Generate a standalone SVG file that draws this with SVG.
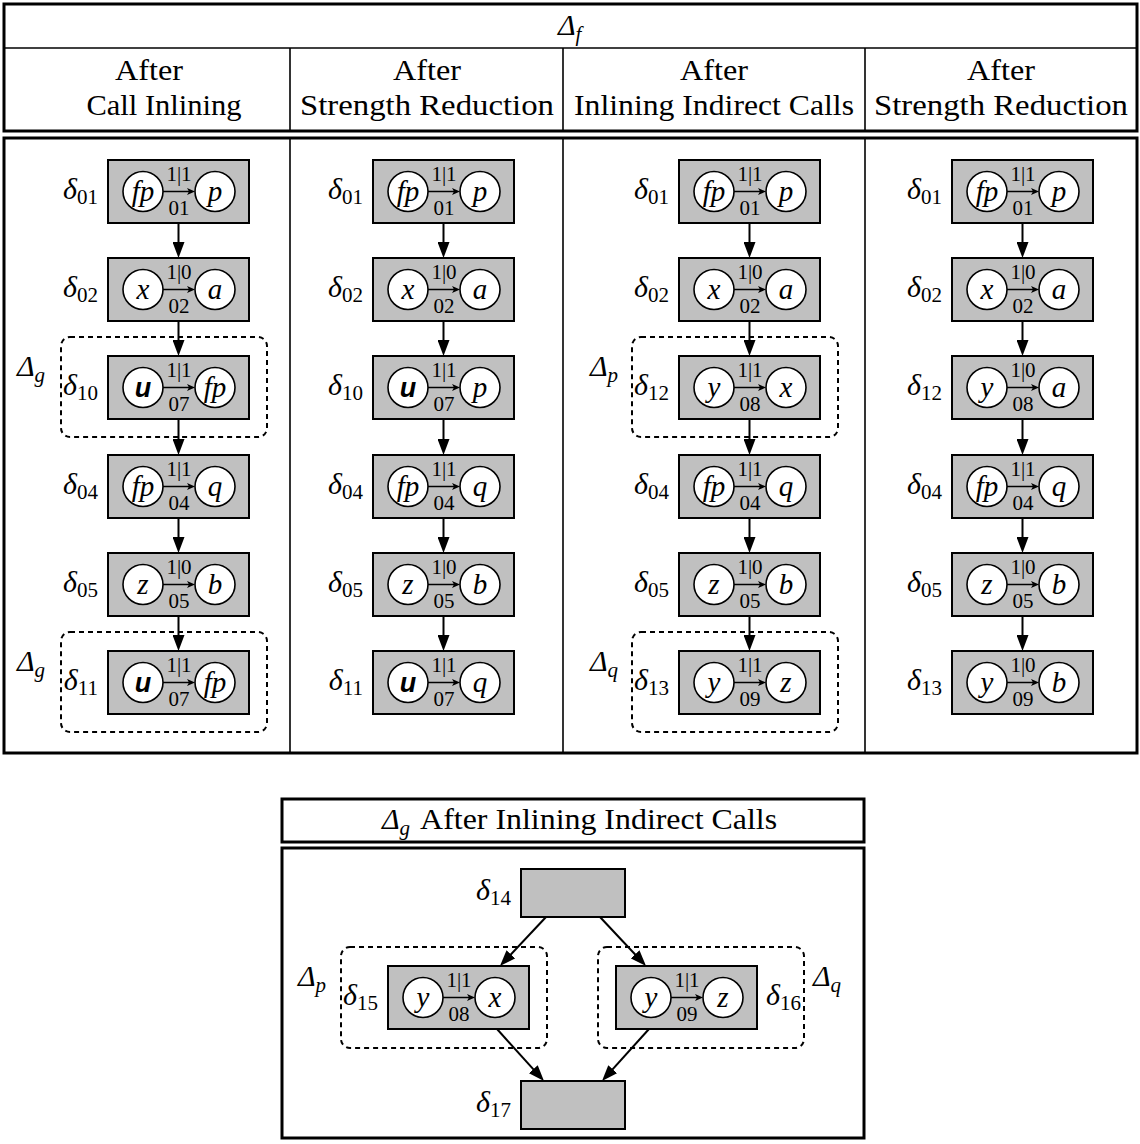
<svg xmlns="http://www.w3.org/2000/svg" width="1140" height="1144" viewBox="0 0 1140 1144">
<style>
text { font-family: "Liberation Serif", "DejaVu Serif", serif; fill: #000; }
.frame { fill: none; stroke: #000; stroke-width: 3; }
.thin { stroke: #000; stroke-width: 1.6; fill: none; }
.h { font-size: 29px; text-anchor: middle; }
.nb { fill: #c0c0c0; stroke: #000; stroke-width: 2; }
.c { fill: #fff; stroke: #000; stroke-width: 1.6; }
.v { font-size: 29px; font-style: italic; text-anchor: middle; }
.vb { font-family: "Liberation Sans", "DejaVu Sans", sans-serif; font-weight: bold; font-style: italic; font-size: 27px; text-anchor: middle; }
.el { font-size: 21px; text-anchor: middle; }
.dl { font-size: 30px; font-style: italic; text-anchor: end; }
.dls { font-size: 30px; font-style: italic; }
.sub { font-size: 21px; font-style: normal; }
.cl { font-size: 30px; font-style: italic; }
.csub { font-size: 21px; font-style: italic; }
.ia { stroke: #000; stroke-width: 1.5; marker-end: url(#sa); }
.va { stroke: #000; stroke-width: 2; fill: none; marker-end: url(#ah); }
.dash { fill: none; stroke: #000; stroke-width: 2; stroke-dasharray: 5 4; }
</style>
<defs>
<marker id="ah" markerUnits="userSpaceOnUse" markerWidth="16" markerHeight="12" refX="6" refY="6" orient="auto"><path d="M0,0 L16,6 L0,12 z" fill="#000"/></marker>
<marker id="sa" markerUnits="userSpaceOnUse" markerWidth="9" markerHeight="7" refX="2" refY="3.5" orient="auto"><path d="M0,0 L8,3.5 L0,7 L2,3.5 z" fill="#000"/></marker>
</defs>
<rect width="1140" height="1144" fill="#fff"/>

<!-- top table frame -->
<g id="table-top">
<rect class="frame" x="4" y="4" width="1133" height="127"/>
<line class="thin" x1="4" y1="48" x2="1137" y2="48"/>
<line class="thin" x1="290" y1="48" x2="290" y2="131"/>
<line class="thin" x1="563" y1="48" x2="563" y2="131"/>
<line class="thin" x1="865" y1="48" x2="865" y2="131"/>
<text x="558" y="35"><tspan class="cl">Δ</tspan><tspan class="csub" dy="6">f</tspan></text>
<text class="h" x="149" y="80" textLength="68" lengthAdjust="spacingAndGlyphs">After</text>
<text class="h" x="164" y="115" textLength="155" lengthAdjust="spacingAndGlyphs">Call Inlining</text>
<text class="h" x="427" y="80" textLength="68" lengthAdjust="spacingAndGlyphs">After</text>
<text class="h" x="427" y="115" textLength="254" lengthAdjust="spacingAndGlyphs">Strength Reduction</text>
<text class="h" x="714" y="80" textLength="68" lengthAdjust="spacingAndGlyphs">After</text>
<text class="h" x="714" y="115" textLength="280" lengthAdjust="spacingAndGlyphs">Inlining Indirect Calls</text>
<text class="h" x="1001" y="80" textLength="68" lengthAdjust="spacingAndGlyphs">After</text>
<text class="h" x="1001" y="115" textLength="254" lengthAdjust="spacingAndGlyphs">Strength Reduction</text>
<rect class="frame" x="4" y="138" width="1133" height="615"/>
<line class="thin" x1="290" y1="138" x2="290" y2="753"/>
<line class="thin" x1="563" y1="138" x2="563" y2="753"/>
<line class="thin" x1="865" y1="138" x2="865" y2="753"/>
</g>

<!-- clusters -->
<g id="cluster-c1-g1"><rect class="dash" x="61" y="337" width="206" height="100" rx="9"/><text x="17" y="376"><tspan class="cl">Δ</tspan><tspan class="csub" dy="6">g</tspan></text></g>
<g id="cluster-c1-g2"><rect class="dash" x="61" y="632" width="206" height="100" rx="9"/><text x="17" y="671"><tspan class="cl">Δ</tspan><tspan class="csub" dy="6">g</tspan></text></g>
<g id="cluster-c3-p"><rect class="dash" x="632" y="337" width="206" height="100" rx="9"/><text x="590" y="376"><tspan class="cl">Δ</tspan><tspan class="csub" dy="6">p</tspan></text></g>
<g id="cluster-c3-q"><rect class="dash" x="632" y="632" width="206" height="100" rx="9"/><text x="590" y="671"><tspan class="cl">Δ</tspan><tspan class="csub" dy="6">q</tspan></text></g>

<!-- connectors -->
<g id="connectors">
<line class="va" x1="178.5" y1="223" x2="178.5" y2="248"/>
<line class="va" x1="178.5" y1="321" x2="178.5" y2="346"/>
<line class="va" x1="178.5" y1="419" x2="178.5" y2="445"/>
<line class="va" x1="178.5" y1="518" x2="178.5" y2="543"/>
<line class="va" x1="178.5" y1="616" x2="178.5" y2="641"/>
<line class="va" x1="443.5" y1="223" x2="443.5" y2="248"/>
<line class="va" x1="443.5" y1="321" x2="443.5" y2="346"/>
<line class="va" x1="443.5" y1="419" x2="443.5" y2="445"/>
<line class="va" x1="443.5" y1="518" x2="443.5" y2="543"/>
<line class="va" x1="443.5" y1="616" x2="443.5" y2="641"/>
<line class="va" x1="749.5" y1="223" x2="749.5" y2="248"/>
<line class="va" x1="749.5" y1="321" x2="749.5" y2="346"/>
<line class="va" x1="749.5" y1="419" x2="749.5" y2="445"/>
<line class="va" x1="749.5" y1="518" x2="749.5" y2="543"/>
<line class="va" x1="749.5" y1="616" x2="749.5" y2="641"/>
<line class="va" x1="1022.5" y1="223" x2="1022.5" y2="248"/>
<line class="va" x1="1022.5" y1="321" x2="1022.5" y2="346"/>
<line class="va" x1="1022.5" y1="419" x2="1022.5" y2="445"/>
<line class="va" x1="1022.5" y1="518" x2="1022.5" y2="543"/>
<line class="va" x1="1022.5" y1="616" x2="1022.5" y2="641"/>
<line class="va" x1="546" y1="917" x2="506.8" y2="958.7"/>
<line class="va" x1="600" y1="917" x2="639.2" y2="958.7"/>
<line class="va" x1="497" y1="1029" x2="537.3" y2="1073.6"/>
<line class="va" x1="649" y1="1029" x2="608.7" y2="1073.6"/>
</g>

<!-- column 1 -->
<g id="c1-d01" transform="translate(108,160)"><rect class="nb" width="141" height="63"/><circle class="c" cx="35" cy="31.5" r="20"/><circle class="c" cx="107" cy="31.5" r="20"/><line class="ia" x1="55" y1="31.5" x2="81" y2="31.5"/><text class="el" x="71" y="21">1|1</text><text class="el" x="71" y="55">01</text><text class="v" x="35" y="41">fp</text><text class="v" x="107" y="41">p</text><text class="dl" x="-10" y="39">δ<tspan class="sub" dy="5">01</tspan></text></g>
<g id="c1-d02" transform="translate(108,258)"><rect class="nb" width="141" height="63"/><circle class="c" cx="35" cy="31.5" r="20"/><circle class="c" cx="107" cy="31.5" r="20"/><line class="ia" x1="55" y1="31.5" x2="81" y2="31.5"/><text class="el" x="71" y="21">1|0</text><text class="el" x="71" y="55">02</text><text class="v" x="35" y="41">x</text><text class="v" x="107" y="41">a</text><text class="dl" x="-10" y="39">δ<tspan class="sub" dy="5">02</tspan></text></g>
<g id="c1-d10" transform="translate(108,356)"><rect class="nb" width="141" height="63"/><circle class="c" cx="35" cy="31.5" r="20"/><circle class="c" cx="107" cy="31.5" r="20"/><line class="ia" x1="55" y1="31.5" x2="81" y2="31.5"/><text class="el" x="71" y="21">1|1</text><text class="el" x="71" y="55">07</text><text class="vb" x="35" y="41">u</text><text class="v" x="107" y="41">fp</text><text class="dl" x="-10" y="39">δ<tspan class="sub" dy="5">10</tspan></text></g>
<g id="c1-d04" transform="translate(108,455)"><rect class="nb" width="141" height="63"/><circle class="c" cx="35" cy="31.5" r="20"/><circle class="c" cx="107" cy="31.5" r="20"/><line class="ia" x1="55" y1="31.5" x2="81" y2="31.5"/><text class="el" x="71" y="21">1|1</text><text class="el" x="71" y="55">04</text><text class="v" x="35" y="41">fp</text><text class="v" x="107" y="41">q</text><text class="dl" x="-10" y="39">δ<tspan class="sub" dy="5">04</tspan></text></g>
<g id="c1-d05" transform="translate(108,553)"><rect class="nb" width="141" height="63"/><circle class="c" cx="35" cy="31.5" r="20"/><circle class="c" cx="107" cy="31.5" r="20"/><line class="ia" x1="55" y1="31.5" x2="81" y2="31.5"/><text class="el" x="71" y="21">1|0</text><text class="el" x="71" y="55">05</text><text class="v" x="35" y="41">z</text><text class="v" x="107" y="41">b</text><text class="dl" x="-10" y="39">δ<tspan class="sub" dy="5">05</tspan></text></g>
<g id="c1-d11" transform="translate(108,651)"><rect class="nb" width="141" height="63"/><circle class="c" cx="35" cy="31.5" r="20"/><circle class="c" cx="107" cy="31.5" r="20"/><line class="ia" x1="55" y1="31.5" x2="81" y2="31.5"/><text class="el" x="71" y="21">1|1</text><text class="el" x="71" y="55">07</text><text class="vb" x="35" y="41">u</text><text class="v" x="107" y="41">fp</text><text class="dl" x="-10" y="39">δ<tspan class="sub" dy="5">11</tspan></text></g>

<!-- column 2 -->
<g id="c2-d01" transform="translate(373,160)"><rect class="nb" width="141" height="63"/><circle class="c" cx="35" cy="31.5" r="20"/><circle class="c" cx="107" cy="31.5" r="20"/><line class="ia" x1="55" y1="31.5" x2="81" y2="31.5"/><text class="el" x="71" y="21">1|1</text><text class="el" x="71" y="55">01</text><text class="v" x="35" y="41">fp</text><text class="v" x="107" y="41">p</text><text class="dl" x="-10" y="39">δ<tspan class="sub" dy="5">01</tspan></text></g>
<g id="c2-d02" transform="translate(373,258)"><rect class="nb" width="141" height="63"/><circle class="c" cx="35" cy="31.5" r="20"/><circle class="c" cx="107" cy="31.5" r="20"/><line class="ia" x1="55" y1="31.5" x2="81" y2="31.5"/><text class="el" x="71" y="21">1|0</text><text class="el" x="71" y="55">02</text><text class="v" x="35" y="41">x</text><text class="v" x="107" y="41">a</text><text class="dl" x="-10" y="39">δ<tspan class="sub" dy="5">02</tspan></text></g>
<g id="c2-d10" transform="translate(373,356)"><rect class="nb" width="141" height="63"/><circle class="c" cx="35" cy="31.5" r="20"/><circle class="c" cx="107" cy="31.5" r="20"/><line class="ia" x1="55" y1="31.5" x2="81" y2="31.5"/><text class="el" x="71" y="21">1|1</text><text class="el" x="71" y="55">07</text><text class="vb" x="35" y="41">u</text><text class="v" x="107" y="41">p</text><text class="dl" x="-10" y="39">δ<tspan class="sub" dy="5">10</tspan></text></g>
<g id="c2-d04" transform="translate(373,455)"><rect class="nb" width="141" height="63"/><circle class="c" cx="35" cy="31.5" r="20"/><circle class="c" cx="107" cy="31.5" r="20"/><line class="ia" x1="55" y1="31.5" x2="81" y2="31.5"/><text class="el" x="71" y="21">1|1</text><text class="el" x="71" y="55">04</text><text class="v" x="35" y="41">fp</text><text class="v" x="107" y="41">q</text><text class="dl" x="-10" y="39">δ<tspan class="sub" dy="5">04</tspan></text></g>
<g id="c2-d05" transform="translate(373,553)"><rect class="nb" width="141" height="63"/><circle class="c" cx="35" cy="31.5" r="20"/><circle class="c" cx="107" cy="31.5" r="20"/><line class="ia" x1="55" y1="31.5" x2="81" y2="31.5"/><text class="el" x="71" y="21">1|0</text><text class="el" x="71" y="55">05</text><text class="v" x="35" y="41">z</text><text class="v" x="107" y="41">b</text><text class="dl" x="-10" y="39">δ<tspan class="sub" dy="5">05</tspan></text></g>
<g id="c2-d11" transform="translate(373,651)"><rect class="nb" width="141" height="63"/><circle class="c" cx="35" cy="31.5" r="20"/><circle class="c" cx="107" cy="31.5" r="20"/><line class="ia" x1="55" y1="31.5" x2="81" y2="31.5"/><text class="el" x="71" y="21">1|1</text><text class="el" x="71" y="55">07</text><text class="vb" x="35" y="41">u</text><text class="v" x="107" y="41">q</text><text class="dl" x="-10" y="39">δ<tspan class="sub" dy="5">11</tspan></text></g>

<!-- column 3 -->
<g id="c3-d01" transform="translate(679,160)"><rect class="nb" width="141" height="63"/><circle class="c" cx="35" cy="31.5" r="20"/><circle class="c" cx="107" cy="31.5" r="20"/><line class="ia" x1="55" y1="31.5" x2="81" y2="31.5"/><text class="el" x="71" y="21">1|1</text><text class="el" x="71" y="55">01</text><text class="v" x="35" y="41">fp</text><text class="v" x="107" y="41">p</text><text class="dl" x="-10" y="39">δ<tspan class="sub" dy="5">01</tspan></text></g>
<g id="c3-d02" transform="translate(679,258)"><rect class="nb" width="141" height="63"/><circle class="c" cx="35" cy="31.5" r="20"/><circle class="c" cx="107" cy="31.5" r="20"/><line class="ia" x1="55" y1="31.5" x2="81" y2="31.5"/><text class="el" x="71" y="21">1|0</text><text class="el" x="71" y="55">02</text><text class="v" x="35" y="41">x</text><text class="v" x="107" y="41">a</text><text class="dl" x="-10" y="39">δ<tspan class="sub" dy="5">02</tspan></text></g>
<g id="c3-d12" transform="translate(679,356)"><rect class="nb" width="141" height="63"/><circle class="c" cx="35" cy="31.5" r="20"/><circle class="c" cx="107" cy="31.5" r="20"/><line class="ia" x1="55" y1="31.5" x2="81" y2="31.5"/><text class="el" x="71" y="21">1|1</text><text class="el" x="71" y="55">08</text><text class="v" x="35" y="41">y</text><text class="v" x="107" y="41">x</text><text class="dl" x="-10" y="39">δ<tspan class="sub" dy="5">12</tspan></text></g>
<g id="c3-d04" transform="translate(679,455)"><rect class="nb" width="141" height="63"/><circle class="c" cx="35" cy="31.5" r="20"/><circle class="c" cx="107" cy="31.5" r="20"/><line class="ia" x1="55" y1="31.5" x2="81" y2="31.5"/><text class="el" x="71" y="21">1|1</text><text class="el" x="71" y="55">04</text><text class="v" x="35" y="41">fp</text><text class="v" x="107" y="41">q</text><text class="dl" x="-10" y="39">δ<tspan class="sub" dy="5">04</tspan></text></g>
<g id="c3-d05" transform="translate(679,553)"><rect class="nb" width="141" height="63"/><circle class="c" cx="35" cy="31.5" r="20"/><circle class="c" cx="107" cy="31.5" r="20"/><line class="ia" x1="55" y1="31.5" x2="81" y2="31.5"/><text class="el" x="71" y="21">1|0</text><text class="el" x="71" y="55">05</text><text class="v" x="35" y="41">z</text><text class="v" x="107" y="41">b</text><text class="dl" x="-10" y="39">δ<tspan class="sub" dy="5">05</tspan></text></g>
<g id="c3-d13" transform="translate(679,651)"><rect class="nb" width="141" height="63"/><circle class="c" cx="35" cy="31.5" r="20"/><circle class="c" cx="107" cy="31.5" r="20"/><line class="ia" x1="55" y1="31.5" x2="81" y2="31.5"/><text class="el" x="71" y="21">1|1</text><text class="el" x="71" y="55">09</text><text class="v" x="35" y="41">y</text><text class="v" x="107" y="41">z</text><text class="dl" x="-10" y="39">δ<tspan class="sub" dy="5">13</tspan></text></g>

<!-- column 4 -->
<g id="c4-d01" transform="translate(952,160)"><rect class="nb" width="141" height="63"/><circle class="c" cx="35" cy="31.5" r="20"/><circle class="c" cx="107" cy="31.5" r="20"/><line class="ia" x1="55" y1="31.5" x2="81" y2="31.5"/><text class="el" x="71" y="21">1|1</text><text class="el" x="71" y="55">01</text><text class="v" x="35" y="41">fp</text><text class="v" x="107" y="41">p</text><text class="dl" x="-10" y="39">δ<tspan class="sub" dy="5">01</tspan></text></g>
<g id="c4-d02" transform="translate(952,258)"><rect class="nb" width="141" height="63"/><circle class="c" cx="35" cy="31.5" r="20"/><circle class="c" cx="107" cy="31.5" r="20"/><line class="ia" x1="55" y1="31.5" x2="81" y2="31.5"/><text class="el" x="71" y="21">1|0</text><text class="el" x="71" y="55">02</text><text class="v" x="35" y="41">x</text><text class="v" x="107" y="41">a</text><text class="dl" x="-10" y="39">δ<tspan class="sub" dy="5">02</tspan></text></g>
<g id="c4-d12" transform="translate(952,356)"><rect class="nb" width="141" height="63"/><circle class="c" cx="35" cy="31.5" r="20"/><circle class="c" cx="107" cy="31.5" r="20"/><line class="ia" x1="55" y1="31.5" x2="81" y2="31.5"/><text class="el" x="71" y="21">1|0</text><text class="el" x="71" y="55">08</text><text class="v" x="35" y="41">y</text><text class="v" x="107" y="41">a</text><text class="dl" x="-10" y="39">δ<tspan class="sub" dy="5">12</tspan></text></g>
<g id="c4-d04" transform="translate(952,455)"><rect class="nb" width="141" height="63"/><circle class="c" cx="35" cy="31.5" r="20"/><circle class="c" cx="107" cy="31.5" r="20"/><line class="ia" x1="55" y1="31.5" x2="81" y2="31.5"/><text class="el" x="71" y="21">1|1</text><text class="el" x="71" y="55">04</text><text class="v" x="35" y="41">fp</text><text class="v" x="107" y="41">q</text><text class="dl" x="-10" y="39">δ<tspan class="sub" dy="5">04</tspan></text></g>
<g id="c4-d05" transform="translate(952,553)"><rect class="nb" width="141" height="63"/><circle class="c" cx="35" cy="31.5" r="20"/><circle class="c" cx="107" cy="31.5" r="20"/><line class="ia" x1="55" y1="31.5" x2="81" y2="31.5"/><text class="el" x="71" y="21">1|0</text><text class="el" x="71" y="55">05</text><text class="v" x="35" y="41">z</text><text class="v" x="107" y="41">b</text><text class="dl" x="-10" y="39">δ<tspan class="sub" dy="5">05</tspan></text></g>
<g id="c4-d13" transform="translate(952,651)"><rect class="nb" width="141" height="63"/><circle class="c" cx="35" cy="31.5" r="20"/><circle class="c" cx="107" cy="31.5" r="20"/><line class="ia" x1="55" y1="31.5" x2="81" y2="31.5"/><text class="el" x="71" y="21">1|0</text><text class="el" x="71" y="55">09</text><text class="v" x="35" y="41">y</text><text class="v" x="107" y="41">b</text><text class="dl" x="-10" y="39">δ<tspan class="sub" dy="5">13</tspan></text></g>

<!-- bottom table -->
<g id="table-bottom">
<rect class="frame" x="282" y="799" width="582" height="43"/>
<text x="382" y="829"><tspan class="cl">Δ</tspan><tspan class="csub" dy="6">g</tspan><tspan class="h" dy="-6" dx="10" style="text-anchor:start" textLength="357" lengthAdjust="spacingAndGlyphs">After Inlining Indirect Calls</tspan></text>
<rect class="frame" x="282" y="848" width="582" height="290"/>
</g>
<g id="cluster-b-p"><rect class="dash" x="341" y="947" width="206" height="101" rx="9"/><text x="298" y="986"><tspan class="cl">Δ</tspan><tspan class="csub" dy="6">p</tspan></text></g>
<g id="cluster-b-q"><rect class="dash" x="598" y="947" width="206" height="101" rx="9"/><text x="813" y="986"><tspan class="cl">Δ</tspan><tspan class="csub" dy="6">q</tspan></text></g>
<g id="b-d14"><rect class="nb" x="521" y="869" width="104" height="48"/><text class="dl" x="511" y="900">δ<tspan class="sub" dy="5">14</tspan></text></g>
<g id="b-d15" transform="translate(388,966)"><rect class="nb" width="141" height="63"/><circle class="c" cx="35" cy="31.5" r="20"/><circle class="c" cx="107" cy="31.5" r="20"/><line class="ia" x1="55" y1="31.5" x2="81" y2="31.5"/><text class="el" x="71" y="21">1|1</text><text class="el" x="71" y="55">08</text><text class="v" x="35" y="41">y</text><text class="v" x="107" y="41">x</text><text class="dl" x="-10" y="39">δ<tspan class="sub" dy="5">15</tspan></text></g>
<g id="b-d16" transform="translate(616,966)"><rect class="nb" width="141" height="63"/><circle class="c" cx="35" cy="31.5" r="20"/><circle class="c" cx="107" cy="31.5" r="20"/><line class="ia" x1="55" y1="31.5" x2="81" y2="31.5"/><text class="el" x="71" y="21">1|1</text><text class="el" x="71" y="55">09</text><text class="v" x="35" y="41">y</text><text class="v" x="107" y="41">z</text><text class="dls" x="150" y="39">δ<tspan class="sub" dy="5">16</tspan></text></g>
<g id="b-d17"><rect class="nb" x="521" y="1081" width="104" height="48"/><text class="dl" x="511" y="1112">δ<tspan class="sub" dy="5">17</tspan></text></g>
</svg>
